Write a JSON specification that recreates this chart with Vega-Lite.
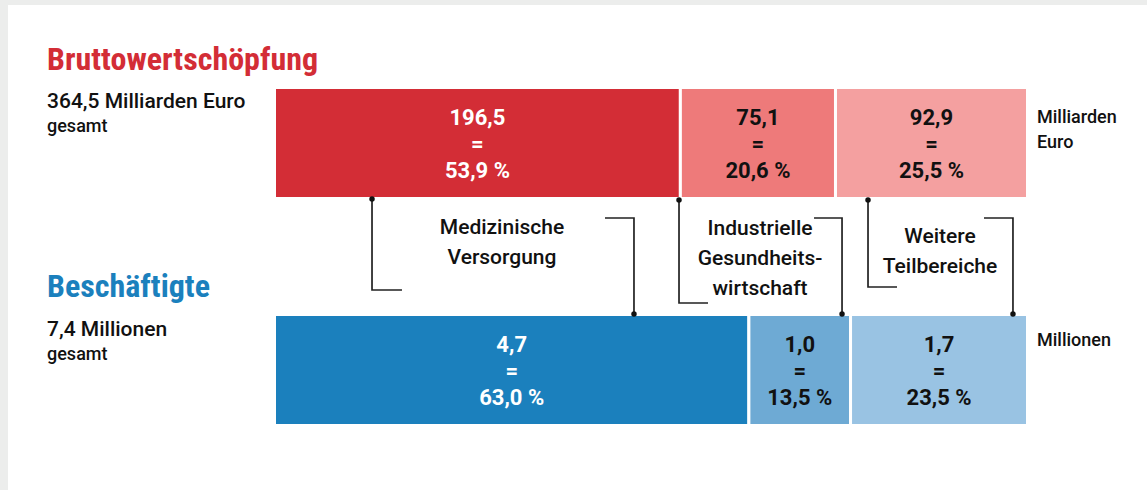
{
  "$schema": "https://vega.github.io/schema/vega-lite/v6.json",
  "width": 1147,
  "height": 490,
  "autosize": {"type": "fit", "contains": "padding"},
  "padding": {"left": 8, "top": 5, "right": 0, "bottom": 0},
  "background": "#ecedec",
  "config": {
    "view": {"stroke": null, "fill": "white"},
    "font": "Roboto, sans-serif",
    "locale": {"number": {"decimal": ",", "thousands": ".", "grouping": [3], "currency": ["", " €"], "percent": " %"}}
  },
  "datasets": {
    "anteile": [
      {"gruppe": "Bruttowertschöpfung", "kategorie": "Medizinische Versorgung", "nr": 1, "wert": 196.5, "anteil": 0.539},
      {"gruppe": "Bruttowertschöpfung", "kategorie": "Industrielle Gesundheitswirtschaft", "nr": 2, "wert": 75.1, "anteil": 0.206},
      {"gruppe": "Bruttowertschöpfung", "kategorie": "Weitere Teilbereiche", "nr": 3, "wert": 92.9, "anteil": 0.255},
      {"gruppe": "Beschäftigte", "kategorie": "Medizinische Versorgung", "nr": 1, "wert": 4.7, "anteil": 0.63},
      {"gruppe": "Beschäftigte", "kategorie": "Industrielle Gesundheitswirtschaft", "nr": 2, "wert": 1.0, "anteil": 0.135},
      {"gruppe": "Beschäftigte", "kategorie": "Weitere Teilbereiche", "nr": 3, "wert": 1.7, "anteil": 0.235}
    ],
    "verbinder": [
      {"linie": "med_oben", "pkt": 1, "x": 0.1295, "y": 194, "anker": true},
      {"linie": "med_oben", "pkt": 2, "x": 0.1295, "y": 285, "anker": false},
      {"linie": "med_oben", "pkt": 3, "x": 0.1693, "y": 285, "anker": false},
      {"linie": "med_unten", "pkt": 1, "x": 0.4389, "y": 213, "anker": false},
      {"linie": "med_unten", "pkt": 2, "x": 0.4774, "y": 213, "anker": false},
      {"linie": "med_unten", "pkt": 3, "x": 0.4774, "y": 309, "anker": true},
      {"linie": "ind_oben", "pkt": 1, "x": 0.5372, "y": 195, "anker": true},
      {"linie": "ind_oben", "pkt": 2, "x": 0.5372, "y": 298, "anker": false},
      {"linie": "ind_oben", "pkt": 3, "x": 0.5757, "y": 298, "anker": false},
      {"linie": "ind_unten", "pkt": 1, "x": 0.7165, "y": 213, "anker": false},
      {"linie": "ind_unten", "pkt": 2, "x": 0.7537, "y": 213, "anker": false},
      {"linie": "ind_unten", "pkt": 3, "x": 0.7537, "y": 309, "anker": true},
      {"linie": "wei_oben", "pkt": 1, "x": 0.7882, "y": 195, "anker": true},
      {"linie": "wei_oben", "pkt": 2, "x": 0.7882, "y": 282, "anker": false},
      {"linie": "wei_oben", "pkt": 3, "x": 0.8267, "y": 282, "anker": false},
      {"linie": "wei_unten", "pkt": 1, "x": 0.9422, "y": 213, "anker": false},
      {"linie": "wei_unten", "pkt": 2, "x": 0.9807, "y": 213, "anker": false},
      {"linie": "wei_unten", "pkt": 3, "x": 0.9807, "y": 309, "anker": true}
    ],
    "beschriftung": [
      {"art": "titel", "gruppe": "Bruttowertschöpfung", "text": "Bruttowertschöpfung", "x": -0.3021, "y": 65},
      {"art": "titel", "gruppe": "Beschäftigte", "text": "Beschäftigte", "x": -0.3021, "y": 292},
      {"art": "summe", "gruppe": "Bruttowertschöpfung", "text": "364,5 Milliarden Euro", "x": -0.3021, "y": 103},
      {"art": "summe", "gruppe": "Beschäftigte", "text": "7,4 Millionen", "x": -0.3021, "y": 331},
      {"art": "gesamt", "gruppe": "Bruttowertschöpfung", "text": "gesamt", "x": -0.3021, "y": 126.5},
      {"art": "gesamt", "gruppe": "Beschäftigte", "text": "gesamt", "x": -0.3021, "y": 355},
      {"art": "einheit", "gruppe": "Bruttowertschöpfung", "text": "Milliarden\nEuro", "x": 1.0126, "y": 118},
      {"art": "einheit", "gruppe": "Beschäftigte", "text": "Millionen", "x": 1.0126, "y": 341},
      {"art": "kategorie", "gruppe": "", "text": "Medizinische\nVersorgung", "x": 0.3021, "y": 223},
      {"art": "kategorie", "gruppe": "", "text": "Industrielle\nGesundheits-\nwirtschaft", "x": 0.6448, "y": 224},
      {"art": "kategorie", "gruppe": "", "text": "Weitere\nTeilbereiche", "x": 0.8838, "y": 232}
    ]
  },
  "resolve": {"scale": {"y": "independent"}},
  "layer": [
    {
      "data": {"name": "anteile"},
      "encoding": {
        "y": {"field": "gruppe", "type": "nominal", "sort": ["Bruttowertschöpfung", "Beschäftigte"], "scale": {"paddingInner": 0.511, "paddingOuter": 0.3238, "align": 0.561}, "axis": null},
        "order": {"field": "nr", "type": "quantitative"},
        "detail": {"field": "kategorie", "type": "nominal"}
      },
      "layer": [
        {
          "mark": {"type": "bar", "stroke": "white", "strokeWidth": 3},
          "encoding": {
            "x": {"field": "anteil", "type": "quantitative", "stack": "zero", "scale": {"domain": [-0.35392, 1.1587], "nice": false, "zero": false}, "axis": null},
            "color": {
              "condition": [
                {"test": "datum.gruppe === 'Bruttowertschöpfung' && datum.nr === 1", "value": "#d32d36"},
                {"test": "datum.gruppe === 'Bruttowertschöpfung' && datum.nr === 2", "value": "#ee7a7a"},
                {"test": "datum.gruppe === 'Bruttowertschöpfung' && datum.nr === 3", "value": "#f4a0a0"},
                {"test": "datum.gruppe === 'Beschäftigte' && datum.nr === 1", "value": "#1b80bd"},
                {"test": "datum.gruppe === 'Beschäftigte' && datum.nr === 2", "value": "#6eaad4"}
              ],
              "value": "#99c3e3"
            }
          }
        },
        {
          "mark": {"type": "text", "fontSize": 22, "fontWeight": "bold", "baseline": "middle", "dy": -25},
          "encoding": {
            "x": {"field": "anteil", "type": "quantitative", "stack": "zero", "bandPosition": 0.5, "scale": {"domain": [-0.35392, 1.1587], "nice": false, "zero": false}, "axis": null},
            "text": {"field": "wert", "type": "quantitative", "format": ".1f"},
            "color": {"condition": {"test": "datum.nr === 1", "value": "white"}, "value": "#111111"}
          }
        },
        {
          "mark": {"type": "text", "fontSize": 22, "fontWeight": "bold", "baseline": "middle", "dy": 1.5},
          "encoding": {
            "x": {"field": "anteil", "type": "quantitative", "stack": "zero", "bandPosition": 0.5, "scale": {"domain": [-0.35392, 1.1587], "nice": false, "zero": false}, "axis": null},
            "text": {"value": "="},
            "color": {"condition": {"test": "datum.nr === 1", "value": "white"}, "value": "#111111"}
          }
        },
        {
          "mark": {"type": "text", "fontSize": 22, "fontWeight": "bold", "baseline": "middle", "dy": 28},
          "encoding": {
            "x": {"field": "anteil", "type": "quantitative", "stack": "zero", "bandPosition": 0.5, "scale": {"domain": [-0.35392, 1.1587], "nice": false, "zero": false}, "axis": null},
            "text": {"field": "anteil", "type": "quantitative", "format": ".1%"},
            "color": {"condition": {"test": "datum.nr === 1", "value": "white"}, "value": "#111111"}
          }
        }
      ]
    },
    {
      "layer": [
        {
          "data": {"name": "verbinder"},
          "mark": {"type": "line", "color": "#222222", "strokeWidth": 1.7},
          "encoding": {
            "x": {"field": "x", "type": "quantitative", "scale": {"domain": [-0.35392, 1.1587], "nice": false, "zero": false}, "axis": null},
            "y": {"field": "y", "type": "quantitative", "scale": {"domain": [0, 485], "reverse": true, "nice": false, "zero": false}, "axis": null},
            "detail": {"field": "linie", "type": "nominal"},
            "order": {"field": "pkt", "type": "quantitative"}
          }
        },
        {
          "data": {"name": "verbinder"},
          "transform": [{"filter": "datum.anker"}],
          "mark": {"type": "circle", "size": 30, "color": "#111111", "opacity": 1},
          "encoding": {
            "x": {"field": "x", "type": "quantitative", "scale": {"domain": [-0.35392, 1.1587], "nice": false, "zero": false}, "axis": null},
            "y": {"field": "y", "type": "quantitative", "scale": {"domain": [0, 485], "reverse": true, "nice": false, "zero": false}, "axis": null}
          }
        },
        {
          "data": {"name": "beschriftung"},
          "transform": [{"filter": "datum.art === 'titel'"}],
          "mark": {"type": "text", "align": "left", "baseline": "alphabetic", "fontSize": 32, "fontWeight": "bold", "font": "Liberation Sans Narrow, Roboto Condensed, Roboto, sans-serif"},
          "encoding": {
            "x": {"field": "x", "type": "quantitative", "scale": {"domain": [-0.35392, 1.1587], "nice": false, "zero": false}, "axis": null},
            "y": {"field": "y", "type": "quantitative", "scale": {"domain": [0, 485], "reverse": true, "nice": false, "zero": false}, "axis": null},
            "text": {"field": "text"},
            "color": {"condition": {"test": "datum.gruppe === 'Beschäftigte'", "value": "#1b80bd"}, "value": "#d32d36"}
          }
        },
        {
          "data": {"name": "beschriftung"},
          "transform": [{"filter": "datum.art === 'summe'"}],
          "mark": {"type": "text", "align": "left", "baseline": "alphabetic", "fontSize": 21, "fontWeight": 500, "color": "#111111"},
          "encoding": {
            "x": {"field": "x", "type": "quantitative", "scale": {"domain": [-0.35392, 1.1587], "nice": false, "zero": false}, "axis": null},
            "y": {"field": "y", "type": "quantitative", "scale": {"domain": [0, 485], "reverse": true, "nice": false, "zero": false}, "axis": null},
            "text": {"field": "text"}
          }
        },
        {
          "data": {"name": "beschriftung"},
          "transform": [{"filter": "datum.art === 'gesamt'"}],
          "mark": {"type": "text", "align": "left", "baseline": "alphabetic", "fontSize": 18, "fontWeight": 500, "color": "#111111"},
          "encoding": {
            "x": {"field": "x", "type": "quantitative", "scale": {"domain": [-0.35392, 1.1587], "nice": false, "zero": false}, "axis": null},
            "y": {"field": "y", "type": "quantitative", "scale": {"domain": [0, 485], "reverse": true, "nice": false, "zero": false}, "axis": null},
            "text": {"field": "text"}
          }
        },
        {
          "data": {"name": "beschriftung"},
          "transform": [{"filter": "datum.art === 'einheit'"}],
          "mark": {"type": "text", "align": "left", "baseline": "alphabetic", "fontSize": 18, "fontWeight": 500, "lineBreak": "\n", "lineHeight": 25, "color": "#111111"},
          "encoding": {
            "x": {"field": "x", "type": "quantitative", "scale": {"domain": [-0.35392, 1.1587], "nice": false, "zero": false}, "axis": null},
            "y": {"field": "y", "type": "quantitative", "scale": {"domain": [0, 485], "reverse": true, "nice": false, "zero": false}, "axis": null},
            "text": {"field": "text"}
          }
        },
        {
          "data": {"name": "beschriftung"},
          "transform": [{"filter": "datum.art === 'kategorie'"}],
          "mark": {"type": "text", "align": "center", "baseline": "middle", "fontSize": 21, "fontWeight": 500, "lineBreak": "\n", "lineHeight": 30, "color": "#111111"},
          "encoding": {
            "x": {"field": "x", "type": "quantitative", "scale": {"domain": [-0.35392, 1.1587], "nice": false, "zero": false}, "axis": null},
            "y": {"field": "y", "type": "quantitative", "scale": {"domain": [0, 485], "reverse": true, "nice": false, "zero": false}, "axis": null},
            "text": {"field": "text"}
          }
        }
      ]
    }
  ]
}
